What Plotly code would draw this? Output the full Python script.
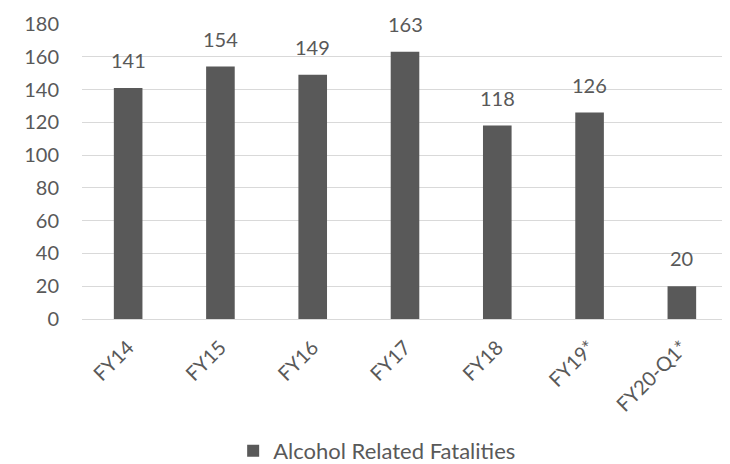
import plotly.graph_objects as go

categories = ["FY14", "FY15", "FY16", "FY17", "FY18", "FY19*", "FY20-Q1*"]
values = [141, 154, 149, 163, 118, 126, 20]
series_name = "Alcohol Related Fatalities"

font_family = "Lato, Open Sans, sans-serif"
grey = "#595959"
fs = 20

fig = go.Figure()
fig.add_trace(go.Bar(
    x=categories, y=values, name=series_name,
    marker=dict(color=grey, line=dict(width=0)),
))
for c, v in zip(categories, values):
    fig.add_annotation(x=c, y=v, text=str(v), showarrow=False,
                       yanchor="bottom", yshift=14,
                       font=dict(size=fs, color=grey, family=font_family))
fig.update_layout(
    width=730, height=464,
    margin=dict(l=74, r=10, t=16, b=153, autoexpand=False),
    paper_bgcolor="white", plot_bgcolor="white",
    bargap=0.69,
    font=dict(family=font_family, color=grey, size=fs),
    showlegend=True,
    legend=dict(orientation="h", x=0.234, xanchor="left",
                yref="container", y=0.0, yanchor="bottom",
                font=dict(size=22, color=grey)),
    xaxis=dict(tickangle=-45, showgrid=False, showline=False, ticks="",
               ticklabelstandoff=12, tickfont=dict(size=fs, color=grey)),
    yaxis=dict(range=[0, 180], dtick=20, showgrid=True, gridcolor="#d9d9d9", gridwidth=1,
               zeroline=True, zerolinecolor="#d9d9d9", zerolinewidth=1,
               showline=False, ticks="", ticklabelstandoff=22,
               tickfont=dict(size=fs, color=grey)),
)
fig.write_html("out.html")
